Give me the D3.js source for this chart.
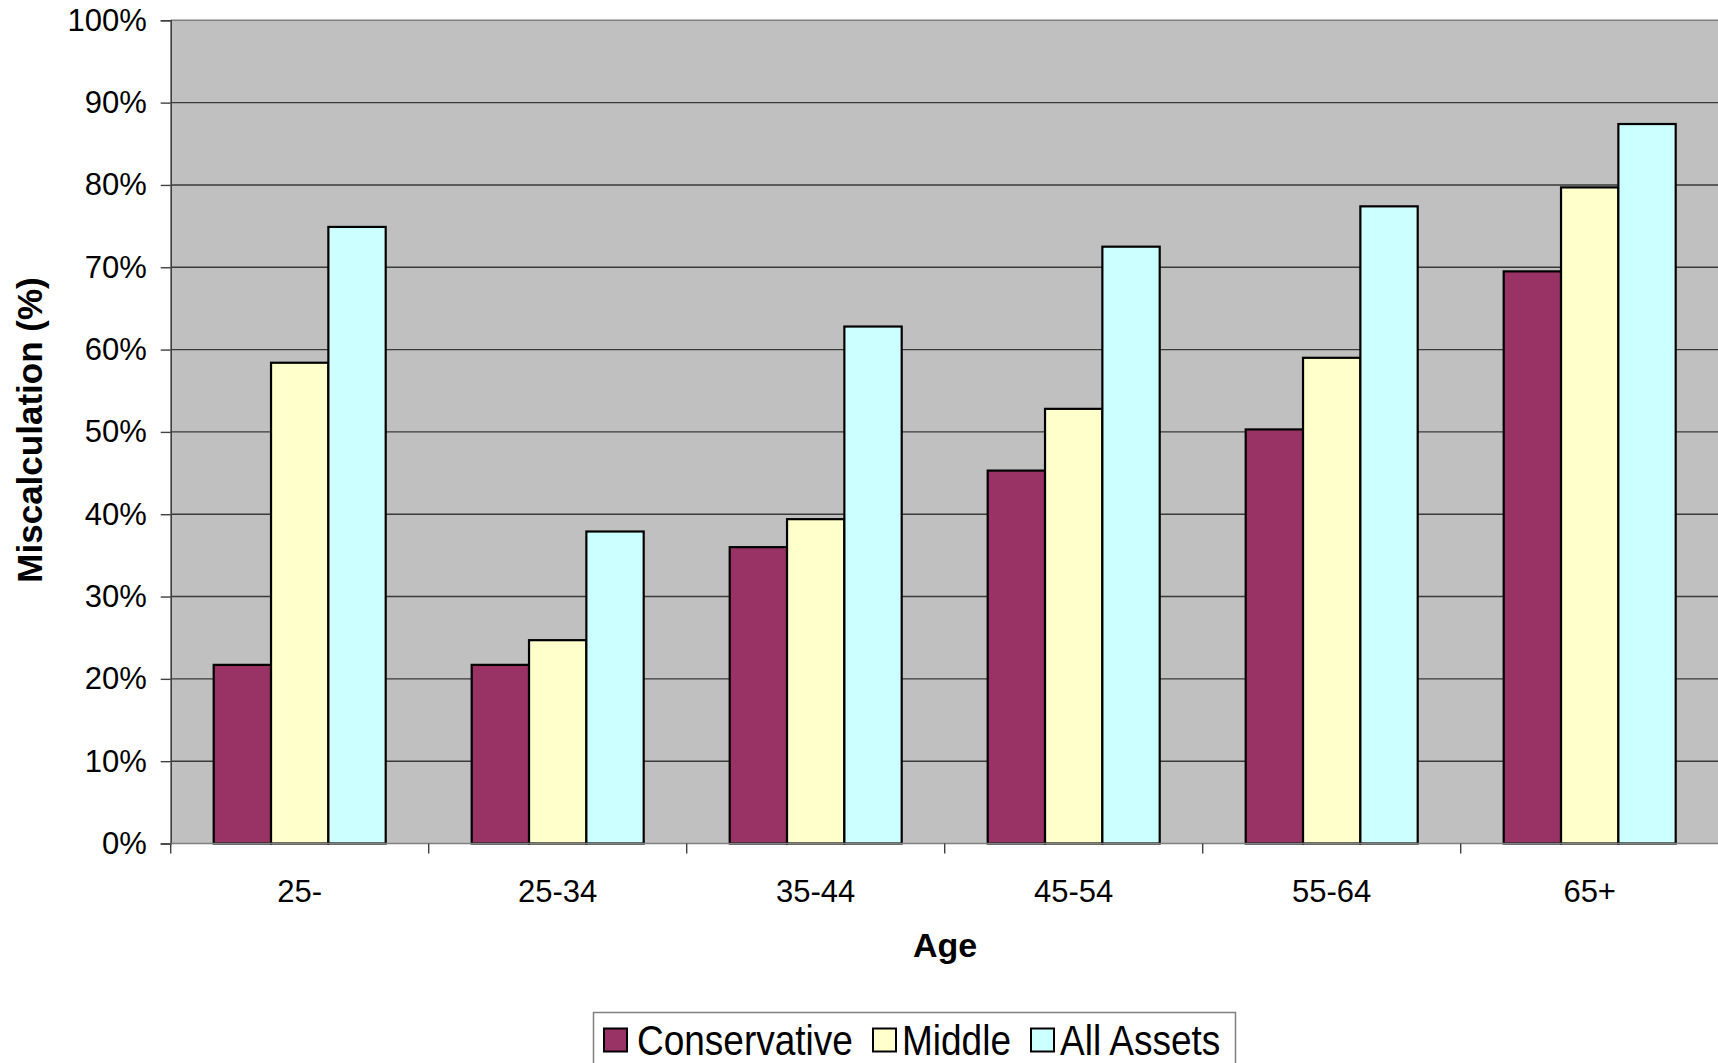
<!DOCTYPE html>
<html>
<head>
<meta charset="utf-8">
<script src="https://cdn.jsdelivr.net/npm/d3@7"></script>
<style>
  html, body { margin: 0; padding: 0; background: #ffffff; overflow: hidden; }
  svg { display: block; font-family: "Liberation Sans", Arial, sans-serif; }
</style>
</head>
<body>
<svg id="chart" width="1718" height="1063"></svg>
<script>
// Age groups on the x axis
const ageGroups = ["25-", "25-34", "35-44", "45-54", "55-64", "65+"];
// Portfolio series
const seriesNames = ["Conservative", "Middle", "All Assets"];
const seriesColors = ["#993366", "#FFFFCC", "#CCFFFF"];
// Share of households miscalculating, per series (percent)
const conservative = [21.7, 21.7, 36.0, 45.3, 50.3, 69.5];
const middle = [58.4, 24.7, 39.4, 52.8, 59.0, 79.7];
const allAssets = [74.9, 37.9, 62.8, 72.5, 77.4, 87.4];
// Y axis ticks
const yTicks = [0, 10, 20, 30, 40, 50, 60, 70, 80, 90, 100];

const seriesValues = [conservative, middle, allAssets];

const svg = d3.select("#chart");
const W = 1718, H = 1063;
const plot = { left: 170.7, top: 20.3, right: 1718.7, bottom: 843.5 };

const x0 = d3.scaleBand().domain(ageGroups).range([plot.left, plot.right]).padding(0);
const x1 = d3.scaleBand().domain(seriesNames).range([0, x0.bandwidth()])
  .paddingInner(0).paddingOuter(0.75);
const y = d3.scaleLinear().domain([0, 100]).range([plot.bottom, plot.top]);

// Plot background
svg.append("rect")
  .attr("x", plot.left).attr("y", plot.top)
  .attr("width", plot.right - plot.left).attr("height", plot.bottom - plot.top)
  .attr("fill", "#C0C0C0");

// Horizontal gridlines
svg.append("g").selectAll("line")
  .data(yTicks.filter(t => t > 0 && t < 100))
  .join("line")
  .attr("x1", plot.left).attr("x2", plot.right)
  .attr("y1", d => y(d)).attr("y2", d => y(d))
  .attr("stroke", "#3a3a3a").attr("stroke-width", 1.4);

// Top border of the plot area
svg.append("line")
  .attr("x1", plot.left).attr("x2", plot.right)
  .attr("y1", y(100)).attr("y2", y(100))
  .attr("stroke", "#808080").attr("stroke-width", 1.6);

// Bars
const rows = ageGroups.map((g, i) => ({
  group: g,
  values: seriesNames.map((s, j) => ({ series: s, value: seriesValues[j][i], color: seriesColors[j] }))
}));

const groups = svg.append("g").selectAll("g")
  .data(rows)
  .join("g")
  .attr("transform", d => `translate(${x0(d.group)},0)`);

groups.selectAll("rect")
  .data(d => d.values)
  .join("rect")
  .attr("x", d => x1(d.series))
  .attr("y", d => y(d.value))
  .attr("width", x1.bandwidth())
  .attr("height", d => y(0) - y(d.value))
  .attr("fill", d => d.color)
  .attr("stroke", "#000")
  .attr("stroke-width", 2.2);

// Y axis
const yAxis = d3.axisLeft(y)
  .tickValues(yTicks)
  .tickFormat(d => d + "%")
  .tickSize(10)
  .tickPadding(14);
const gy = svg.append("g")
  .attr("transform", `translate(${plot.left},0)`)
  .call(yAxis);
gy.select(".domain").attr("stroke", "#404040").attr("stroke-width", 1.6);
gy.selectAll(".tick line").attr("stroke", "#404040").attr("stroke-width", 1.4);
gy.selectAll(".tick text")
  .attr("font-size", 31).attr("fill", "#000")
  .attr("font-family", "Liberation Sans, Arial, sans-serif");

// X axis: ticks sit on category boundaries, labels centred in each band
svg.append("line")
  .attr("x1", plot.left).attr("x2", plot.right)
  .attr("y1", plot.bottom).attr("y2", plot.bottom)
  .attr("stroke", "#808080").attr("stroke-width", 1.6);

svg.append("g").selectAll("line")
  .data(ageGroups)
  .join("line")
  .attr("x1", d => x0(d)).attr("x2", d => x0(d))
  .attr("y1", plot.bottom).attr("y2", plot.bottom + 10)
  .attr("stroke", "#404040").attr("stroke-width", 1.4);

svg.append("g").selectAll("text")
  .data(ageGroups)
  .join("text")
  .attr("x", d => x0(d) + x0.bandwidth() / 2)
  .attr("y", 902)
  .attr("text-anchor", "middle")
  .attr("font-size", 31)
  .attr("fill", "#000")
  .text(d => d);

// Axis titles
svg.append("text")
  .attr("x", 945).attr("y", 957)
  .attr("text-anchor", "middle")
  .attr("font-size", 34).attr("font-weight", "bold")
  .text("Age");

svg.append("text")
  .attr("transform", "translate(42,430) rotate(-90)")
  .attr("text-anchor", "middle")
  .attr("font-size", 35).attr("font-weight", "bold")
  .text("Miscalculation (%)");

// Legend
const legend = svg.append("g");
legend.append("rect")
  .attr("x", 593.5).attr("y", 1012.5)
  .attr("width", 642).attr("height", 70)
  .attr("fill", "#fff").attr("stroke", "#808080").attr("stroke-width", 1.5);

const legendItems = [
  { name: seriesNames[0], color: seriesColors[0], sx: 604, tx: 637 },
  { name: seriesNames[1], color: seriesColors[1], sx: 873, tx: 902 },
  { name: seriesNames[2], color: seriesColors[2], sx: 1031, tx: 1060 }
];
const li = legend.selectAll("g.item").data(legendItems).join("g").attr("class", "item");
li.append("rect")
  .attr("x", d => d.sx).attr("y", 1028.5)
  .attr("width", 23).attr("height", 23)
  .attr("fill", d => d.color).attr("stroke", "#000").attr("stroke-width", 2);
li.append("text")
  .attr("transform", d => `translate(${d.tx},1055) scale(1,1.13)`)
  .attr("font-size", 37)
  .attr("fill", "#000")
  .text(d => d.name);
</script>
</body>
</html>
